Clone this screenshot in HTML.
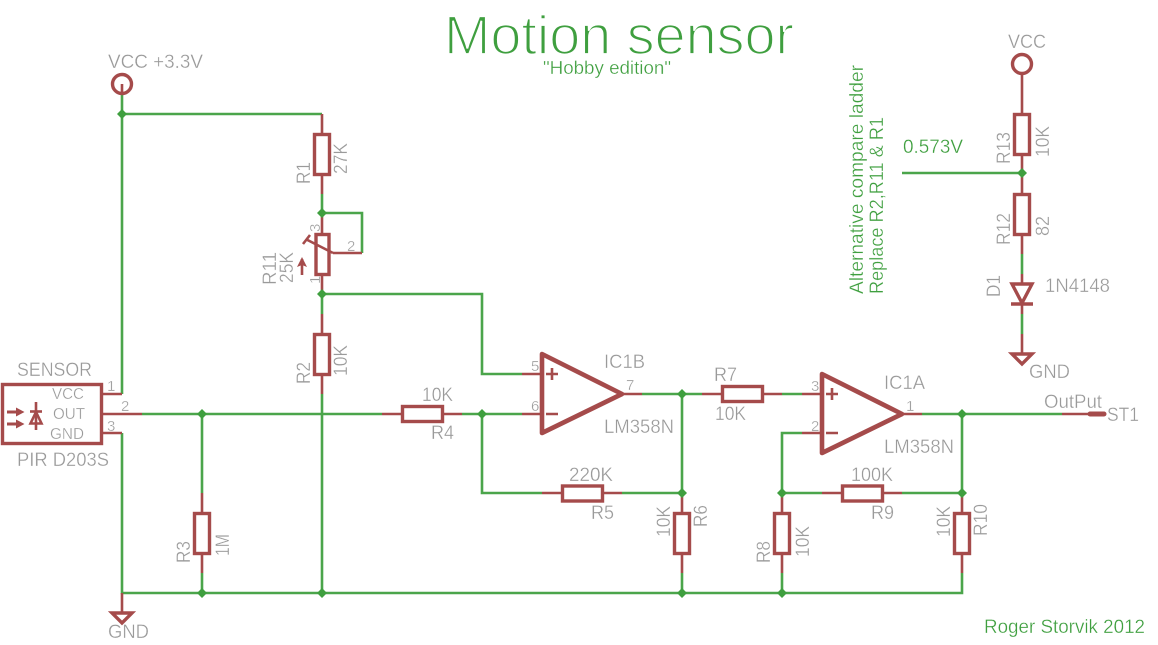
<!DOCTYPE html>
<html><head><meta charset="utf-8"><style>
html,body{margin:0;padding:0;background:#fff}
svg{display:block}
text{font-family:"Liberation Sans",sans-serif;fill:#9a9a9a;font-size:19px;stroke:#fff;stroke-width:.3}
text.g{fill:#3f9f3f}
.p{font-size:15px}
.i{font-size:15.500px}
.w{stroke:#4ba54b;stroke-width:2.6;fill:none}
.s{stroke:#a54b4b;stroke-width:2.6;fill:none}
.b{stroke:#a54b4b;stroke-width:3.4;fill:none}
.o{stroke:#a54b4b;stroke-width:4.6;fill:none;stroke-linejoin:round}
.j{fill:#3f9f3f}
</style></head><body>
<svg width="1158" height="645" viewBox="0 0 1158 645" xmlns="http://www.w3.org/2000/svg">
<rect width="1158" height="645" fill="#fff"/>
<!-- wires -->
<path class="w" d="M122 94V394M122 114H322M122 433V593H962V573M142 414H382M202 414V493M202 573V593M322 394V593M322 194V213M322 294V314M322 294H482V374H522M322 213H362V253M462 414H522M482 414V493H542M622 493H682M642 394H702M682 394V493M682 573V593M782 394H802M922 414H1062M962 414V493M902 493H962M802 433H782V493H822M782 573V593M902 173H1022M1022 254V274M1022 314V334"/>
<!-- pins -->
<path class="s" d="M122 613V593M102 394H122M102 414H142M102 433H122M322 114V134M322 174V194M322 213V234M322 275V294M322 314V334M322 374V394M202 493V513M202 553V573M382 414H402M442 414H462M522 374H542M522 414H542M622 394H642M542 493H562M602 493H622M682 493V513M682 553V573M702 394H722M762 394H782M802 394H822M802 433H822M902 414H922M822 493H842M882 493H902M782 493V513M782 553V573M962 493V513M962 553V573M1062 414H1090M1022 74V114M1022 154V194M1022 234V254M1022 274V284M1022 304V314M1022 334V354M122 84V94M333 253H362"/>
<!-- resistors -->
<g class="b">
<rect x="314.500" y="134.500" width="15" height="40"/>
<rect x="316" y="234.500" width="13" height="40"/>
<rect x="314.500" y="334.500" width="15" height="40"/>
<rect x="194.500" y="513.500" width="15" height="40"/>
<rect x="402.500" y="406.500" width="40" height="15"/>
<rect x="562.500" y="486" width="40" height="15"/>
<rect x="674.500" y="513.500" width="15" height="40"/>
<rect x="722.500" y="386.500" width="40" height="15"/>
<rect x="842.500" y="486" width="40" height="15"/>
<rect x="774.500" y="513.500" width="15" height="40"/>
<rect x="954.500" y="513.500" width="15" height="40"/>
<rect x="1014.500" y="114.500" width="15" height="40"/>
<rect x="1014.500" y="194.500" width="15" height="40"/>
</g>
<!-- potentiometer wiper + arrow -->
<path class="s" d="M306.500 239.500L333 253M303 244L310 235M302 275V259"/>
<path d="M302 257L297 267L302 265L307 267Z" fill="#a54b4b"/>
<!-- op amps -->
<path class="o" d="M542 354L622 394L542 433Z"/>
<path class="o" d="M822 374L902 414L822 453Z"/>
<path class="s" d="M546 374H558M552 368V380M546 414H558M826 394H838M832 388V400M826 433H838"/>
<!-- supplies -->
<circle cx="122" cy="84" r="9.500" class="b" fill="#fff"/>
<circle cx="1022" cy="64" r="9.500" class="b"/>
<path class="b" d="M112 613H132L122 623ZM1012 354H1032L1022 364Z"/>
<!-- diode -->
<path class="b" d="M1012 284H1032L1022 303ZM1011 304H1033"/>
<!-- connector pad -->
<path d="M1090 414H1104" stroke="#a54b4b" stroke-width="5" stroke-linecap="round"/>
<!-- sensor -->
<rect x="2.500" y="384.500" width="99" height="59" class="b"/>
<path d="M7 410.500H16V407.500L24.500 412L16 416.500V413.500H7ZM7 422.500H16V419.500L24.500 424L16 428.500V425.500H7Z" fill="#a54b4b"/>
<path class="s" d="M36 402V430"/>
<path class="s" d="M30 411.500H42"/>
<path class="s" stroke-linejoin="miter" d="M36 412L30.500 423.500H41.500Z"/>
<!-- junctions -->
<g class="j">
<path d="M122 109l5 5-5 5-5-5z"/><path d="M202 409l5 5-5 5-5-5z"/><path d="M322 208l5 5-5 5-5-5z"/><path d="M322 289l5 5-5 5-5-5z"/><path d="M482 409l5 5-5 5-5-5z"/><path d="M682 389l5 5-5 5-5-5z"/><path d="M682 488l5 5-5 5-5-5z"/><path d="M782 488l5 5-5 5-5-5z"/><path d="M962 409l5 5-5 5-5-5z"/><path d="M962 488l5 5-5 5-5-5z"/><path d="M1022 168l5 5-5 5-5-5z"/>
<path d="M202 588l5 5-5 5-5-5z"/><path d="M322 588l5 5-5 5-5-5z"/><path d="M682 588l5 5-5 5-5-5z"/><path d="M782 588l5 5-5 5-5-5z"/>
</g>
<!-- green text -->
<text class="g" x="444" y="54" textLength="350" lengthAdjust="spacingAndGlyphs" style="font-size:55px;stroke-width:1.800">Motion sensor</text>
<text class="g" x="543" y="74" textLength="128" lengthAdjust="spacingAndGlyphs" style="font-size:18px">"Hobby edition"</text>
<text class="g" x="903" y="153" textLength="60" lengthAdjust="spacingAndGlyphs">0.573V</text>
<text class="g" transform="translate(863,294) rotate(-90)" textLength="229" lengthAdjust="spacingAndGlyphs">Alternative compare ladder</text>
<text class="g" transform="translate(883,294) rotate(-90)" textLength="177" lengthAdjust="spacingAndGlyphs">Replace R2,R11 &amp; R1</text>
<text class="g" x="984" y="633" textLength="161" lengthAdjust="spacingAndGlyphs">Roger Storvik 2012</text>
<!-- horizontal labels -->
<text x="108" y="68" textLength="95" lengthAdjust="spacingAndGlyphs">VCC +3.3V</text>
<text x="1008" y="48" textLength="38" lengthAdjust="spacingAndGlyphs">VCC</text>
<text x="17" y="376" textLength="75" lengthAdjust="spacingAndGlyphs">SENSOR</text>
<text x="17" y="466" textLength="92" lengthAdjust="spacingAndGlyphs">PIR D203S</text>
<text class="i" x="52" y="399" textLength="32" lengthAdjust="spacingAndGlyphs">VCC</text>
<text class="i" x="53" y="419" textLength="32" lengthAdjust="spacingAndGlyphs">OUT</text>
<text class="i" x="50" y="439" textLength="34" lengthAdjust="spacingAndGlyphs">GND</text>
<text class="p" x="107" y="391">1</text>
<text class="p" x="121" y="411">2</text>
<text class="p" x="107" y="431">3</text>
<text x="108" y="638" textLength="41" lengthAdjust="spacingAndGlyphs">GND</text>
<text x="1029" y="378" textLength="41" lengthAdjust="spacingAndGlyphs">GND</text>
<text x="1045" y="292" textLength="65" lengthAdjust="spacingAndGlyphs">1N4148</text>
<text x="422" y="401" textLength="31" lengthAdjust="spacingAndGlyphs">10K</text>
<text x="431" y="439" textLength="23" lengthAdjust="spacingAndGlyphs">R4</text>
<text x="569" y="481" textLength="44" lengthAdjust="spacingAndGlyphs">220K</text>
<text x="591" y="519" textLength="23" lengthAdjust="spacingAndGlyphs">R5</text>
<text x="714" y="381" textLength="23" lengthAdjust="spacingAndGlyphs">R7</text>
<text x="715" y="420" textLength="31" lengthAdjust="spacingAndGlyphs">10K</text>
<text x="851" y="481" textLength="42" lengthAdjust="spacingAndGlyphs">100K</text>
<text x="871" y="519" textLength="23" lengthAdjust="spacingAndGlyphs">R9</text>
<text x="604" y="368" textLength="41" lengthAdjust="spacingAndGlyphs">IC1B</text>
<text x="604" y="433" textLength="70" lengthAdjust="spacingAndGlyphs">LM358N</text>
<text x="884" y="389" textLength="41" lengthAdjust="spacingAndGlyphs">IC1A</text>
<text x="884" y="453" textLength="70" lengthAdjust="spacingAndGlyphs">LM358N</text>
<text class="p" x="531" y="371">5</text>
<text class="p" x="531" y="411">6</text>
<text class="p" x="626" y="390">7</text>
<text class="p" x="811" y="391">3</text>
<text class="p" x="811" y="431">2</text>
<text class="p" x="906" y="411">1</text>
<text x="1044" y="408" textLength="58" lengthAdjust="spacingAndGlyphs">OutPut</text>
<text x="1107" y="421" textLength="32" lengthAdjust="spacingAndGlyphs">ST1</text>
<text class="p" x="347" y="251">2</text>
<!-- vertical labels -->
<g>
<text transform="translate(310,184) rotate(-90)" textLength="22" lengthAdjust="spacingAndGlyphs">R1</text>
<text transform="translate(347,174) rotate(-90)" textLength="31" lengthAdjust="spacingAndGlyphs">27K</text>
<text transform="translate(276,285) rotate(-90)" textLength="33" lengthAdjust="spacingAndGlyphs">R11</text>
<text transform="translate(293,283) rotate(-90)" textLength="31" lengthAdjust="spacingAndGlyphs">25K</text>
<text class="p" transform="translate(320,232) rotate(-90)">3</text>
<text class="p" transform="translate(320,284) rotate(-90)">1</text>
<text transform="translate(310,384) rotate(-90)" textLength="22" lengthAdjust="spacingAndGlyphs">R2</text>
<text transform="translate(347,376) rotate(-90)" textLength="31" lengthAdjust="spacingAndGlyphs">10K</text>
<text transform="translate(190,563) rotate(-90)" textLength="22" lengthAdjust="spacingAndGlyphs">R3</text>
<text transform="translate(229,556) rotate(-90)" textLength="22" lengthAdjust="spacingAndGlyphs">1M</text>
<text transform="translate(670,537) rotate(-90)" textLength="31" lengthAdjust="spacingAndGlyphs">10K</text>
<text transform="translate(707,527) rotate(-90)" textLength="22" lengthAdjust="spacingAndGlyphs">R6</text>
<text transform="translate(770,563) rotate(-90)" textLength="22" lengthAdjust="spacingAndGlyphs">R8</text>
<text transform="translate(809,557) rotate(-90)" textLength="31" lengthAdjust="spacingAndGlyphs">10K</text>
<text transform="translate(950,537) rotate(-90)" textLength="31" lengthAdjust="spacingAndGlyphs">10K</text>
<text transform="translate(987,536) rotate(-90)" textLength="32" lengthAdjust="spacingAndGlyphs">R10</text>
<text transform="translate(1010,164) rotate(-90)" textLength="32" lengthAdjust="spacingAndGlyphs">R13</text>
<text transform="translate(1049,157) rotate(-90)" textLength="31" lengthAdjust="spacingAndGlyphs">10K</text>
<text transform="translate(1010,245) rotate(-90)" textLength="32" lengthAdjust="spacingAndGlyphs">R12</text>
<text transform="translate(1049,236) rotate(-90)" textLength="20" lengthAdjust="spacingAndGlyphs">82</text>
<text transform="translate(1000,297) rotate(-90)" textLength="22" lengthAdjust="spacingAndGlyphs">D1</text>
</g>
</svg>
</body></html>
